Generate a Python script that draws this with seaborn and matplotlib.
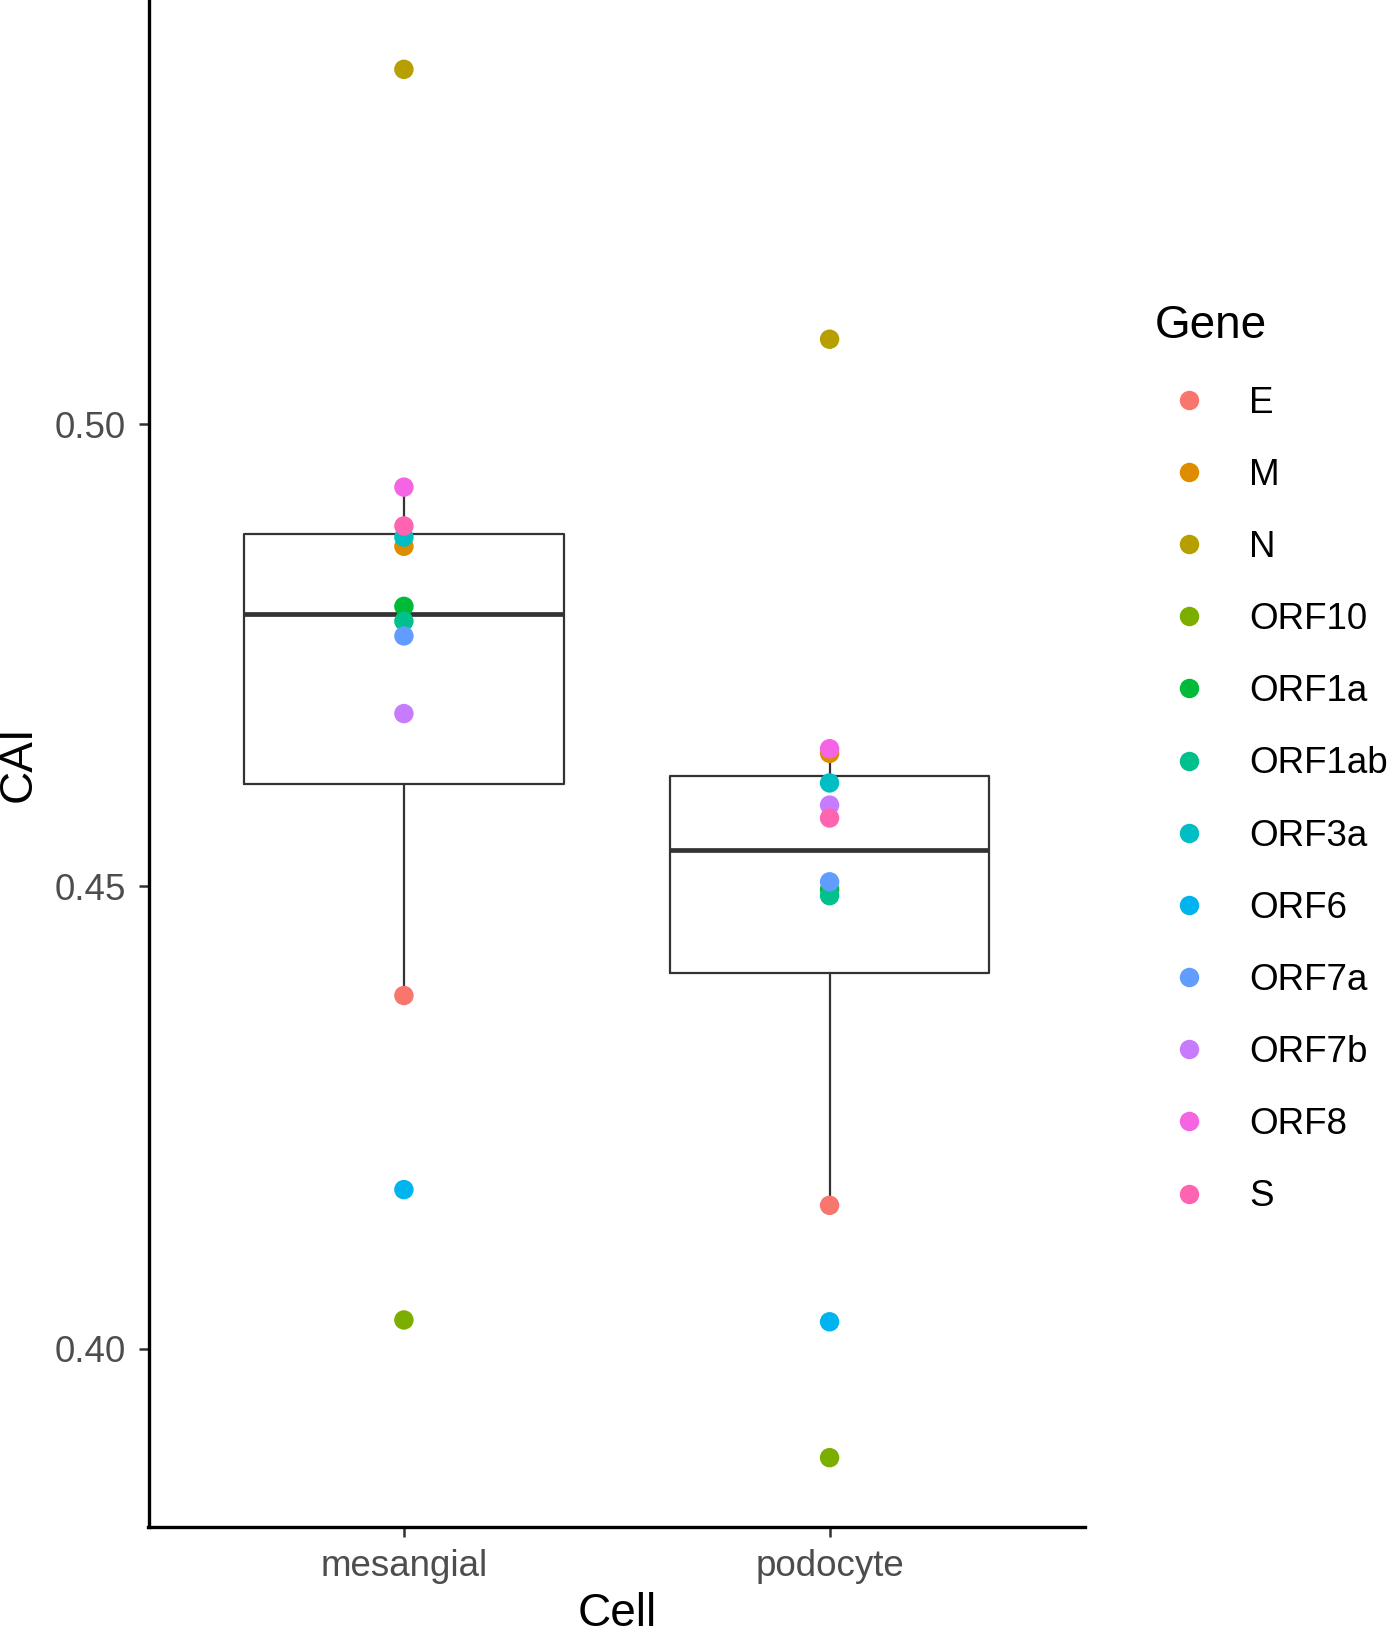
import pandas as pd
import matplotlib
matplotlib.use('Agg')
import matplotlib.pyplot as plt
from matplotlib.lines import Line2D
import seaborn as sns

# CAI per gene
genes = ['E', 'M', 'N', 'ORF10', 'ORF1a', 'ORF1ab', 'ORF3a', 'ORF6',
         'ORF7a', 'ORF7b', 'ORF8', 'S']
cai_mesangial = [0.4382, 0.4868, 0.5384, 0.4031, 0.4803, 0.4787, 0.4878,
                 0.4172, 0.4771, 0.4687, 0.4932, 0.4890]
cai_podocyte = [0.4155, 0.4644, 0.5092, 0.3882, 0.4497, 0.4490, 0.4612,
                0.4029, 0.4505, 0.4588, 0.4649, 0.4574]
cells = ['mesangial', 'podocyte']
y_ticks = [0.40, 0.45, 0.50]

# ggplot default hue palette for 12 levels
gg_colors = ['#F8766D', '#DE8C00', '#B79F00', '#7CAE00', '#00BA38', '#00C08B',
             '#00BFC4', '#00B4F0', '#619CFF', '#C77CFF', '#F564E3', '#FF64B0']
palette = dict(zip(genes, gg_colors))

df = pd.DataFrame({
    'Cell': ['mesangial'] * len(genes) + ['podocyte'] * len(genes),
    'Gene': genes + genes,
    'CAI': cai_mesangial + cai_podocyte,
})

sns.set_style('ticks')
plt.rcParams['font.family'] = ['Liberation Sans', 'DejaVu Sans']
plt.rcParams['text.color'] = 'black'

W, H = 1391, 1629
fig = plt.figure(figsize=(W / 100, H / 100), dpi=100)
ax = fig.add_axes([148.5 / W, (H - 1527) / H, 936.5 / W, 1527 / H])

line_col = '#333333'
sns.boxplot(data=df, x='Cell', y='CAI', order=cells, ax=ax, fill=False,
            color=line_col, width=0.75, whis=1.5, showfliers=False,
            showcaps=False, linewidth=1.6,
            medianprops={'linewidth': 3.4, 'color': line_col},
            boxprops={'color': line_col}, whiskerprops={'color': line_col})
sns.stripplot(data=df, x='Cell', y='CAI', order=cells, hue='Gene',
              hue_order=genes, palette=palette, jitter=False, size=14,
              linewidth=0, ax=ax, legend=False, zorder=3)

ax.set_xlim(-0.6, 1.6)
ax.set_ylim(0.3807, 0.5459)
ax.set_yticks(y_ticks)
ax.set_yticklabels([f'{v:.2f}' for v in y_ticks])

for side in ['top', 'right']:
    ax.spines[side].set_visible(False)
for side in ['left', 'bottom']:
    ax.spines[side].set_color('black')
    ax.spines[side].set_linewidth(2.4)

ax.tick_params(axis='both', which='major', length=7.5, width=1.8,
               color=line_col, labelcolor='#4D4D4D', labelsize=26.5,
               bottom=True, left=True, direction='out')
ax.tick_params(axis='y', pad=9)
ax.tick_params(axis='x', pad=8)
ax.set_xlabel('Cell', fontsize=33, color='black', labelpad=6)
ax.set_ylabel('CAI', fontsize=33, color='black', labelpad=10)

handles = [Line2D([], [], marker='o', linestyle='none', markersize=14,
                  markerfacecolor=palette[g], markeredgewidth=0)
           for g in genes]
leg = fig.legend(handles, genes, title='Gene', loc='upper left',
                 bbox_to_anchor=(1136 / W, 1 - 286 / H),
                 bbox_transform=fig.transFigure, frameon=False,
                 fontsize=26.5, title_fontsize=33, borderpad=0,
                 handlelength=1.9, handletextpad=0.68, labelspacing=1.01,
                 alignment='left', labelcolor='black')
leg.get_title().set_color('black')

fig.savefig('out.png', dpi=100)
